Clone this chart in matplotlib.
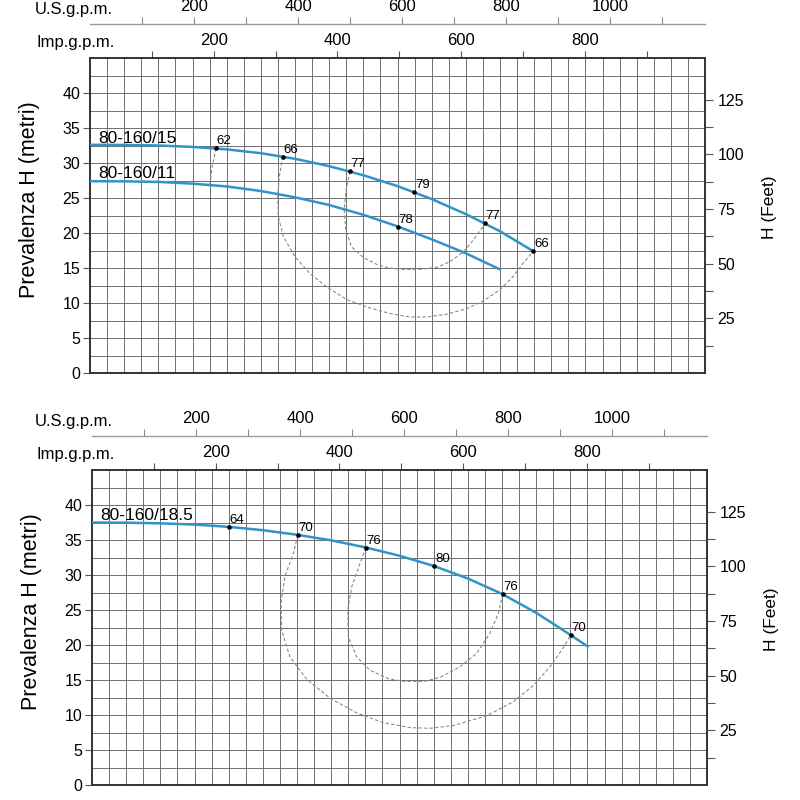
import matplotlib.pyplot as plt
from matplotlib.ticker import FixedLocator

plt.rcParams["font.family"] = ["Liberation Sans", "DejaVu Sans"]

# flow in m3/h on the hidden base axis, gallons as printed on the sheet
IMP_GPM = 0.2715   # m3/h per Imp. g.p.m.
US_GPM = 0.2283    # m3/h per U.S. g.p.m.
Q_MAX = 270.0
H_MAX = 45.0
FT_MAX = 144.0

BLUE = "#3094c8"

# ---- upper sheet: 80-160/15 and 80-160/11 ----
q_15 = [0, 15, 30, 45, 60, 75, 90, 105, 120, 135, 150, 165, 180, 194.6]
h_15 = [32.6, 32.58, 32.5, 32.3, 31.95, 31.4, 30.6, 29.55, 28.25, 26.7,
        24.85, 22.7, 20.25, 17.4]
q_11 = [0, 15, 30, 45, 60, 75, 90, 105, 120, 135, 150, 165, 180]
h_11 = [27.4, 27.38, 27.3, 27.05, 26.65, 26.0, 25.1, 24.0, 22.6, 20.95,
        19.1, 17.1, 14.8]

top_eff_q = [55.3, 84.6, 114.1, 142.4, 173.4, 194.6, 135.1]
top_eff_h = [32.1, 30.9, 28.8, 25.8, 21.4, 17.4, 20.9]
top_eff_lbl = ["62", "66", "77", "79", "77", "66", "78"]

iso62_q = [55.3, 53.8, 52.6]
iso62_h = [32.1, 29.7, 27.0]
iso66_q = [84.6, 83.1, 82.4, 82.7, 84.9, 90.0, 96.6, 103.9, 112.7, 122.9,
           131.7, 140.5, 147.8, 156.6, 165.4, 172.7, 180.0, 185.8, 190.2, 194.6]
iso66_h = [30.9, 28.0, 25.2, 22.3, 19.5, 16.6, 14.2, 12.3, 10.5, 9.3,
           8.5, 8.0, 8.0, 8.4, 9.2, 10.3, 11.9, 13.8, 15.7, 17.4]
iso77_q = [114.1, 112.4, 111.6, 112.3, 114.9, 120.0, 126.0, 131.0, 137.5,
           144.9, 152.2, 158.0, 163.9, 168.3, 172.0, 173.4]
iso77_h = [28.8, 26.1, 23.3, 20.4, 18.0, 16.5, 15.5, 15.0, 14.8,
           14.8, 15.1, 15.9, 17.3, 19.0, 20.7, 21.4]

# ---- lower sheet: 80-160/18.5 ----
q_185 = [0, 15, 30, 45, 60, 75, 90, 105, 120, 135, 150, 165, 180, 195, 210, 217.6]
h_185 = [37.5, 37.47, 37.38, 37.2, 36.88, 36.4, 35.75, 34.95, 33.95, 32.75,
         31.3, 29.5, 27.3, 24.6, 21.45, 19.8]

bot_eff_q = [60.1, 90.3, 120.2, 150.3, 180.3, 210.2]
bot_eff_h = [36.85, 35.7, 33.9, 31.3, 27.3, 21.45]
bot_eff_lbl = ["64", "70", "76", "80", "76", "70"]

iso70_q = [90.3, 88.4, 84.7, 83.0, 83.3, 86.9, 94.3, 104.5, 116.2, 127.9,
           139.6, 148.4, 158.7, 173.3, 185.0, 193.7, 201.1, 206.9, 210.2]
iso70_h = [35.7, 33.1, 29.8, 26.0, 22.1, 18.3, 15.1, 12.4, 10.3, 8.9,
           8.2, 8.1, 8.5, 9.9, 11.9, 14.2, 16.9, 19.6, 21.45]
iso76_q = [120.2, 117.7, 114.0, 112.3, 112.5, 116.2, 122.0, 130.0, 137.0,
           146.0, 153.0, 161.6, 168.9, 174.7, 178.4, 180.3]
iso76_h = [33.9, 31.7, 28.3, 25.0, 21.2, 18.3, 16.4, 15.2, 14.8,
           14.8, 15.4, 16.9, 18.8, 21.7, 24.5, 27.3]

h_ticks = [0, 5, 10, 15, 20, 25, 30, 35, 40]
ft_ticks = [25, 50, 75, 100, 125]
ft_minor = [12.5, 37.5, 62.5, 87.5, 112.5]
imp_ticks = [200, 400, 600, 800]
imp_minor = [100, 300, 500, 700, 900]
us_ticks = [200, 400, 600, 800, 1000]
us_minor = [100, 300, 500, 700, 900, 1100]


def px(x, y):
    return x / 800, 1 - y / 800


def panel(left, top, curves, labels, eff, isos):
    x0, y1 = px(left, top)
    _, y0 = px(left, top + 315)
    w = 615 / 800
    ax = fig.add_axes([x0, y0, w, y1 - y0])
    ax.set_xlim(0, Q_MAX)
    ax.set_ylim(0, H_MAX)

    # paper grid
    for i in range(1, 36):
        ax.axvline(i * 7.5, color="#6e6e6e", lw=0.7, zorder=1)
    for j in range(1, 18):
        ax.axhline(j * 2.5, color="#6e6e6e", lw=0.7, zorder=1)

    for q, h in isos:
        ax.plot(q, h, color="#8a8a8a", lw=0.8, ls=(0, (3, 2)), zorder=2)
    for q, h in curves:
        ax.plot(q, h, color=BLUE, lw=1.8, zorder=3, solid_joinstyle="round")
    for (txt, tq, th) in labels:
        ax.text(tq, th, txt, fontsize=12.5, va="baseline", ha="left", zorder=4)

    eq, eh, el = eff
    ax.plot(eq, eh, "o", color="black", ms=2.3, zorder=5)
    for q, h, s in zip(eq, eh, el):
        ax.annotate(s, (q, h), xytext=(0.5, 3), textcoords="offset points",
                    fontsize=9.5, ha="left", va="baseline", zorder=5)

    for s in ax.spines.values():
        s.set_color("#333333")
        s.set_linewidth(1.4)
    ax.set_xticks([])
    ax.yaxis.set_major_locator(FixedLocator(h_ticks))
    ax.tick_params(axis="y", labelsize=11.5, length=5, width=0.8, pad=2,
                   color="#555555")
    ax.set_ylabel("Prevalenza H (metri)", fontsize=15.5)
    ax.yaxis.set_label_coords(-0.081, 0.55)

    # feet on the right
    axr = ax.twinx()
    axr.set_ylim(0, FT_MAX)
    axr.yaxis.set_major_locator(FixedLocator(ft_ticks))
    axr.yaxis.set_minor_locator(FixedLocator(ft_minor))
    axr.tick_params(axis="y", which="both", labelsize=11.5, length=6, width=0.8,
                    pad=3, color="#555555")
    for s in axr.spines.values():
        s.set_visible(False)
    axr.set_ylabel("H (Feet)", fontsize=12.5)
    axr.yaxis.set_label_coords(1.093, 0.527)

    # Imp. g.p.m. along the top border
    imp = ax.secondary_xaxis("top", functions=(lambda q: q / IMP_GPM,
                                               lambda g: g * IMP_GPM))
    imp.xaxis.set_major_locator(FixedLocator(imp_ticks))
    imp.xaxis.set_minor_locator(FixedLocator(imp_minor))
    imp.tick_params(which="both", labelsize=12, length=5, width=0.8, pad=2,
                    color="#555555")
    imp.spines["top"].set_visible(False)

    # U.S. g.p.m. scale above
    _, yus = px(left, top - 34)
    us = fig.add_axes([x0, yus, w, 0.0001])
    us.set_xlim(0, Q_MAX / US_GPM)
    us.patch.set_visible(False)
    for k in ("left", "right", "bottom"):
        us.spines[k].set_visible(False)
    us.spines["top"].set_color("#9a9a9a")
    us.spines["top"].set_linewidth(1.0)
    us.set_yticks([])
    us.xaxis.tick_top()
    us.xaxis.set_major_locator(FixedLocator(us_ticks))
    us.xaxis.set_minor_locator(FixedLocator(us_minor))
    us.tick_params(axis="x", which="both", labelsize=12, length=5, width=0.8,
                   pad=2, color="#8a8a8a", direction="out")

    fig.text(*px(35, top - 44), "U.S.g.p.m.", fontsize=12, va="baseline")
    fig.text(*px(37, top - 11), "Imp.g.p.m.", fontsize=12, va="baseline")
    return ax


fig = plt.figure(figsize=(8, 8), dpi=100)

panel(90, 58,
      [(q_15, h_15), (q_11, h_11)],
      [("80-160/15", 3.5, 32.9), ("80-160/11", 3.5, 27.9)],
      (top_eff_q, top_eff_h, top_eff_lbl),
      [(iso62_q, iso62_h), (iso66_q, iso66_h), (iso77_q, iso77_h)])

panel(92, 470,
      [(q_185, h_185)],
      [("80-160/18.5", 3.8, 37.9)],
      (bot_eff_q, bot_eff_h, bot_eff_lbl),
      [(iso70_q, iso70_h), (iso76_q, iso76_h)])

fig.savefig("out.png", dpi=100)
